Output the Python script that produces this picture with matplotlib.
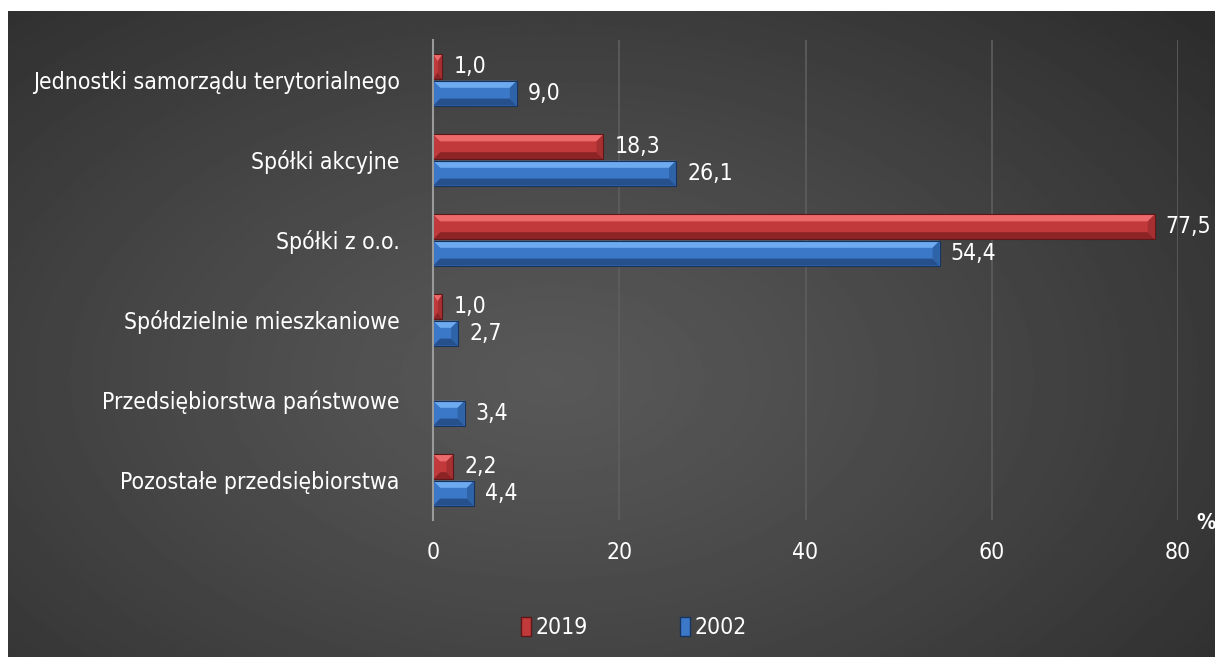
import numpy as np
import matplotlib
matplotlib.use('Agg')
import matplotlib.pyplot as plt
from matplotlib.patches import Polygon, Rectangle
from matplotlib import font_manager as fm

categories = ['Jednostki samorządu terytorialnego', 'Spółki akcyjne', 'Spółki z o.o.',
              'Spółdzielnie mieszkaniowe', 'Przedsiębiorstwa państwowe', 'Pozostałe przedsiębiorstwa']
values_2019 = [1.0, 18.3, 77.5, 1.0, np.nan, 2.2]
values_2002 = [9.0, 26.1, 54.4, 2.7, 3.4, 4.4]
series_names = ['2019', '2002']
x_ticks = [0, 20, 40, 60, 80]

RED = {'face': '#c2393b', 'top': '#ec6a6b', 'bottom': '#8c2426', 'end': '#a52f31', 'edge': '#5e1718'}
BLUE = {'face': '#3b78c8', 'top': '#6eaaf0', 'bottom': '#25508c', 'end': '#2f63a8', 'edge': '#17335e'}

# a narrow face is closer to the original; fall back to plain DejaVu
has_cond = any(f.name == 'DejaVu Sans' and 'ondensed' in f.fname for f in fm.fontManager.ttflist)
FONT = dict(family='DejaVu Sans', stretch='condensed') if has_cond else dict(family='DejaVu Sans')
FS = 16.5 if has_cond else 15

W, H = 1215, 657
fig = plt.figure(figsize=(W / 100, H / 100), dpi=100)
fig.patch.set_facecolor('white')
plt.rcParams['font.family'] = ['DejaVu Sans']
if has_cond:
    plt.rcParams['font.stretch'] = 'condensed'

# dark panel with a soft radial gradient
bg = fig.add_axes([8 / W, 0, 1 - 8 / W, 1 - 11 / H])
bg.set_axis_off()
yy, xx = np.mgrid[0:300, 0:600]
r = np.sqrt(((xx - 270) / 520) ** 2 + ((yy - 170) / 300) ** 2)
shade = 0x58 - (0x58 - 0x22) * np.clip(r, 0, 1) ** 1.2
bg.imshow(shade / 255, cmap='gray', vmin=0, vmax=1, aspect='auto', extent=[0, 1, 1, 0])
bg.set_xlim(0, 1)
bg.set_ylim(1, 0)

ax = fig.add_axes([433 / W, 1 - 520 / H, (1178 - 433) / W, 480 / H])
ax.patch.set_alpha(0)
ax.set_xlim(0, 80)
ax.set_ylim(5.5, -0.5)

# pixel -> data helpers for the bevel size
px_x = 80 / (1178 - 433)
px_y = 1 / 80


def bevel_bar(ax, y, h, w, c):
    if np.isnan(w) or w <= 0:
        return
    bx = min(7 * px_x, w / 2)
    by = min(7 * px_y, h / 2)
    x0, x1, y0, y1 = 0, w, y - h / 2, y + h / 2
    ax.add_patch(Rectangle((x0, y0), w, h, facecolor=c['face'], edgecolor='none', zorder=3))
    ax.add_patch(Polygon([(x0, y0), (x1, y0), (x1 - bx, y0 + by), (x0 + bx, y0 + by)],
                         facecolor=c['top'], edgecolor='none', zorder=4))
    ax.add_patch(Polygon([(x0, y1), (x1, y1), (x1 - bx, y1 - by), (x0 + bx, y1 - by)],
                         facecolor=c['bottom'], edgecolor='none', zorder=4))
    ax.add_patch(Polygon([(x1, y0), (x1, y1), (x1 - bx, y1 - by), (x1 - bx, y0 + by)],
                         facecolor=c['end'], edgecolor='none', zorder=4))
    ax.add_patch(Polygon([(x0, y0), (x0, y1), (x0 + bx, y1 - by), (x0 + bx, y0 + by)],
                         facecolor=c['face'], edgecolor='none', zorder=4))
    ax.add_patch(Rectangle((x0, y0), w, h, facecolor='none', edgecolor=c['edge'], lw=0.8, zorder=5))


def fmt(v):
    return f'{v:.1f}'.replace('.', ',')


bar_h = 0.31
for i, cat in enumerate(categories):
    for v, c, off in [(values_2019[i], RED, -0.165), (values_2002[i], BLUE, 0.165)]:
        if np.isnan(v):
            continue
        bevel_bar(ax, i + off, bar_h, v, c)
        ax.annotate(fmt(v), (v, i + off), xytext=(8, 0), textcoords='offset points',
                    va='center', ha='left', color='white', fontsize=FS, zorder=6, **FONT)

ax.set_yticks(range(len(categories)))
ax.set_yticklabels(categories, **FONT)
ax.set_xticks(x_ticks)
ax.set_xticklabels([str(t) for t in x_ticks], **FONT)
ax.tick_params(axis='y', length=0, pad=24, labelsize=FS, labelcolor='white')
ax.tick_params(axis='x', length=0, pad=15, labelsize=FS, labelcolor='white')
ax.grid(axis='x', color='#5e5e5e', lw=1.2, zorder=1)
for s in ['top', 'right', 'bottom']:
    ax.spines[s].set_visible(False)
ax.spines['left'].set_color('#9a9a9a')
ax.spines['left'].set_linewidth(1.5)
ax.spines['left'].set_zorder(6)

fig.text(1196 / W, 1 - 523 / H, '%', color='white', fontsize=FS - 1, fontweight='bold',
         family='DejaVu Sans', ha='left', va='center')

handles = [Rectangle((0, 0), 1, 1, facecolor=RED['face'], edgecolor=RED['edge']),
           Rectangle((0, 0), 1, 1, facecolor=BLUE['face'], edgecolor=BLUE['edge'])]
leg = fig.legend(handles, series_names, loc='center', bbox_to_anchor=(634 / W, 1 - 628 / H),
                 ncol=2, frameon=False, labelcolor='white',
                 handlelength=0.45, handleheight=0.85, handletextpad=0.2, columnspacing=4.0,
                 prop=dict(size=FS, **FONT))

fig.savefig('out.png', dpi=100, facecolor='white')
